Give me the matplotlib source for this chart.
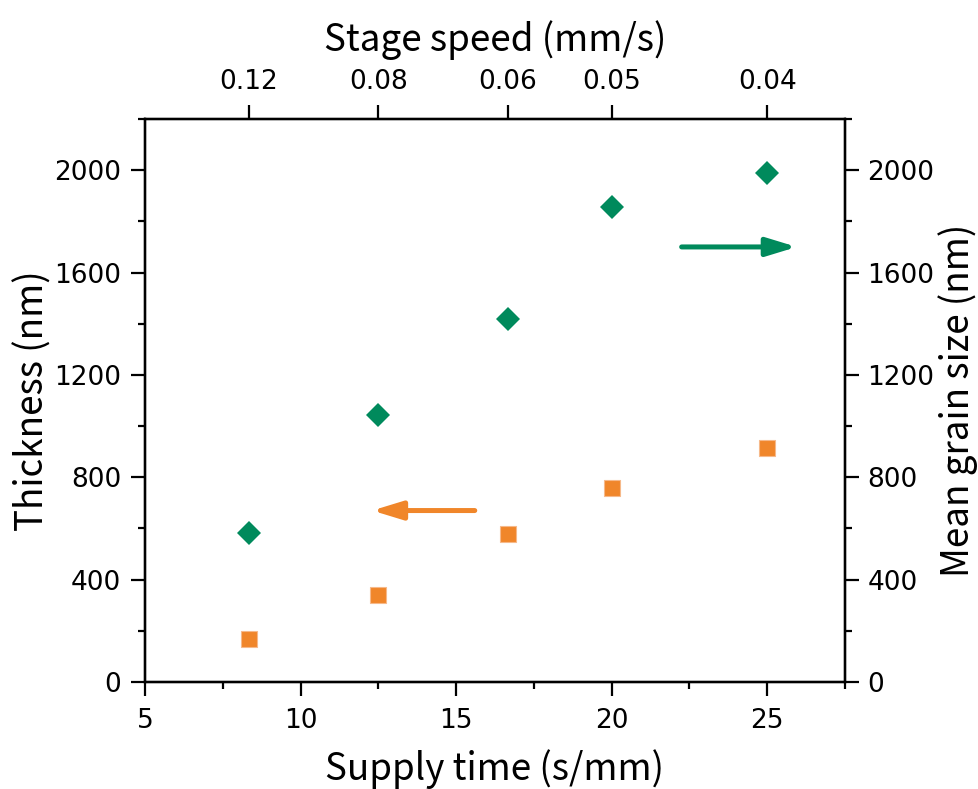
import numpy as np
import matplotlib
matplotlib.use("Agg")
import matplotlib.pyplot as plt
from matplotlib.ticker import MultipleLocator

# tick numbers in DejaVu (wide digits), axis titles in a Japanese gothic
plt.rcParams["font.family"] = ["DejaVu Sans"]
LABEL_FONT = ["Noto Sans CJK JP", "DejaVu Sans"]

# data
stage_speed = [0.12, 0.08, 0.06, 0.05, 0.04]          # mm/s
supply_time = [1 / v for v in stage_speed]             # s/mm
thickness = [167, 341, 579, 760, 916]                  # nm (left axis)
grain_size = [581, 1042, 1418, 1857, 1989]             # nm (right axis)
speed_labels = ["0.12", "0.08", "0.06", "0.05", "0.04"]

ORANGE = "#f0862a"
GREEN = "#008a5c"

fig = plt.figure(figsize=(9.79, 7.89), dpi=100)
ax = fig.add_axes([0.1481, 0.1356, 0.7150, 0.7136])
ax2 = ax.twinx()
ax3 = ax.twiny()

ax.plot(supply_time, thickness, "s", color=ORANGE, markersize=12,
        markeredgecolor="#f6b98a", markeredgewidth=0.8, zorder=3)
ax2.plot(supply_time, grain_size, "D", color=GREEN, markersize=12.3,
         markeredgewidth=0, zorder=3)

# direction arrows
arrow_style = "-|>,head_length=1.8,head_width=0.55"
ax.annotate("", xy=(12.3, 670), xytext=(15.6, 670),
            arrowprops=dict(arrowstyle=arrow_style, color=ORANGE, lw=3.6,
                            shrinkA=0, shrinkB=0))
ax2.annotate("", xy=(25.95, 1700), xytext=(22.25, 1700),
             arrowprops=dict(arrowstyle=arrow_style, color=GREEN, lw=3.6,
                             shrinkA=0, shrinkB=0))

ax.set_xlim(5, 27.5)
ax.set_ylim(0, 2200)
ax2.set_ylim(0, 2200)
ax3.set_xlim(ax.get_xlim())

ax.xaxis.set_major_locator(MultipleLocator(5))
ax.xaxis.set_minor_locator(MultipleLocator(2.5))
for a in (ax, ax2):
    a.yaxis.set_major_locator(MultipleLocator(400))
    a.yaxis.set_minor_locator(MultipleLocator(200))

ax3.set_xticks(supply_time)
ax3.set_xticklabels(speed_labels)
ax3.xaxis.set_minor_locator(plt.NullLocator())

for a in (ax, ax2, ax3):
    a.tick_params(which="major", direction="out", length=10, width=1.6,
                  labelsize=19, pad=5)
    a.tick_params(which="minor", direction="out", length=5, width=1.6)
    for s in a.spines.values():
        s.set_linewidth(1.6)
ax.tick_params(axis="x", pad=9)
ax.tick_params(axis="y", pad=7)
ax2.tick_params(axis="y", pad=6)
ax3.tick_params(axis="x", pad=7.5)

ax.set_xlabel("Supply time (s/mm)", fontsize=26.5, family=LABEL_FONT)
ax.set_ylabel("Thickness (nm)", fontsize=26.5, family=LABEL_FONT)
ax2.set_ylabel("Mean grain size (nm)", fontsize=26.5, family=LABEL_FONT)
ax3.set_xlabel("Stage speed (mm/s)", fontsize=26.5, family=LABEL_FONT)
ax.xaxis.set_label_coords(0.5, -0.119)
ax.yaxis.set_label_coords(-0.132, 0.5)
ax2.yaxis.set_label_coords(1.133, 0.5)
ax3.xaxis.set_label_coords(0.5, 1.120)

fig.savefig("out.png", dpi=100)
